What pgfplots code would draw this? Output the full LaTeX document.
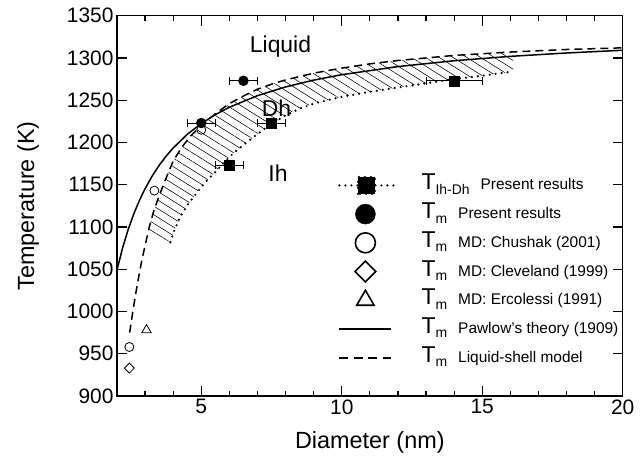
\documentclass[border=0pt]{standalone}
\usepackage{fontspec}
\setmainfont{Liberation Sans}
\usepackage{pgfplots}
\pgfplotsset{compat=1.18}
\usetikzlibrary{patterns.meta}

% legend text: T with subscript, then the description
\newcommand{\leg}[2]{T\raisebox{-4.5bp}{\fontsize{14}{14}\selectfont #1}\hspace{11bp}{\fontsize{15.5}{18}\selectfont #2}}

\begin{document}
\begin{tikzpicture}[font=\fontsize{21}{25}\selectfont]
\begin{axis}[
    width=505.7bp, height=380.3bp, scale only axis,
    xmin=2, xmax=20, ymin=900, ymax=1350,
    xtick={5,10,15,20},
    minor xtick={3,4,6,7,8,9,11,12,13,14,16,17,18,19},
    ytick={900,950,...,1350},
    tick align=inside,
    major tick length=10bp, minor tick length=5.5bp,
    every tick/.style={line width=1.2bp, black},
    axis line style={line width=1.2bp},
    /pgf/number format/assume math mode=true,
    /pgf/number format/set thousands separator={},
    tick label style={font=\fontsize{21}{21}\selectfont},
    xlabel={Diameter (nm)}, ylabel={Temperature (K)},
    label style={font=\fontsize{23.5}{24}\selectfont},
    xlabel style={at={(axis description cs:0.5,-0.121)}, anchor=center},
    ylabel style={at={(axis description cs:-0.176,0.5)}, anchor=center},
    legend cell align=left,
    legend style={draw=none, fill=none, at={(axis description cs:0.437,0.592)},
        anchor=north west, inner sep=0pt, row sep=0pt,
        font=\fontsize{23}{23}\selectfont,
        nodes={inner xsep=0pt, inner ysep=1.85bp, text height=17bp, text depth=8bp},
        /tikz/every odd column/.append style={column sep=27bp}},
    legend image code/.code={
        \draw[mark repeat=2,mark phase=2,#1] plot coordinates {(0bp,0bp)(26bp,0bp)(52bp,0bp)};},
]

% hatched band between liquid-shell curve and Ih-Dh line
\addplot[draw=none, pattern={Lines[angle=-32,distance=7.3bp,line width=0.55bp]}, forget plot]
coordinates {
(3.12,1096)(3.3,1118)(3.5,1137)(3.75,1158)(4.0,1178)(4.3,1194)(4.6,1207)(5.0,1220)
(5.5,1234)(6.0,1246)(6.5,1255)(7.0,1263)(7.5,1269)(8.0,1274)(9.0,1282)(10,1288)
(11,1293)(12,1297)(13,1300)(14,1303)(15,1305)(16.1,1307)
(16.1,1284)(15,1279)(14,1275)(13,1270)(12,1265)(11,1260)(10,1254)(9.0,1246)(8.5,1240)
(8.0,1232)(7.5,1222)(7.0,1210)(6.5,1197)(6.1,1186)(5.8,1176)(5.5,1165)(5.2,1155)
(4.85,1141)(4.55,1128)(4.25,1112)(4.05,1097)(3.9,1082)
};

% Ih-Dh boundary (dotted)
\addplot[black, line width=2.4bp, line cap=round, dash pattern=on 0bp off 6bp,
    legend image code/.code={
        \draw[black, line width=2.4bp, line cap=round, dash pattern=on 0bp off 6bp] (0bp,0bp) -- (54bp,0bp);
        \fill[black] (18.5bp,-8.5bp) rectangle (35.5bp,8.5bp);}]
coordinates {
(3.9,1082)(4.05,1097)(4.25,1112)(4.55,1128)(4.85,1141)(5.2,1155)(5.5,1165)(5.8,1176)
(6.1,1186)(6.5,1197)(7.0,1210)(7.5,1222)(8.0,1232)(8.5,1240)(9.0,1246)(10,1254)
(11,1260)(12,1265)(13,1270)(14,1275)(15,1279)(16.1,1284)
};
\addlegendentry{\leg{Ih-Dh}{Present results}}

\addplot[only marks, mark=square*, mark size=5bp, black, forget plot,
    error bars/.cd, x dir=both, x explicit,
    error bar style={line width=1bp, black, solid},
    error mark options={rotate=90, mark size=4bp, line width=1bp, solid}]
coordinates {(6,1173) +- (0.5,0) (7.5,1223) +- (0.5,0) (14,1273) +- (1.0,0)};

% melting points, present results
\addplot[only marks, mark=*, mark size=5bp, black,
    legend image post style={mark size=10bp},
    error bars/.cd, x dir=both, x explicit,
    error bar style={line width=1bp, black},
    error mark options={rotate=90, mark size=4bp, line width=1bp}]
coordinates {(5,1223) +- (0.5,0) (6.5,1273) +- (0.5,0)};
\addlegendentry{\leg{m}{Present results}}

\addplot[only marks, mark=o, mark size=4.5bp, black, line width=0.8bp,
    legend image post style={mark size=10bp, line width=1.6bp}]
coordinates {(2.44,958)(3.33,1143)(5.0,1215)};
\addlegendentry{\leg{m}{MD: Chushak (2001)}}

\addplot[only marks, mark=square, mark options={rotate=45}, mark size=3.5bp, black, line width=0.8bp,
    legend image post style={mark size=7.3bp, line width=1.6bp}]
coordinates {(2.44,933)};
\addlegendentry{\leg{m}{MD: Cleveland (1999)}}

\addplot[only marks, mark=triangle, mark size=5.5bp, black, line width=0.8bp,
    legend image post style={mark size=10bp, line width=1.6bp}]
coordinates {(3.05,978)};
\addlegendentry{\leg{m}{MD: Ercolessi (1991)}}

% Pawlow's theory
\addplot[black, line width=1.5bp, legend image post style={line width=1.9bp}] coordinates {
(2.0,1049)(2.2,1075.3)(2.4,1097.2)(2.6,1115.7)(2.8,1131.6)(3.0,1145.3)(3.25,1160.2)
(3.5,1172.9)(3.75,1183.9)(4.0,1193.5)(4.5,1209.6)(5.0,1222.4)(5.5,1232.9)(6.0,1241.7)
(7.0,1255.4)(8.0,1265.7)(9.0,1273.8)(10,1280.2)(12,1289.8)(14,1296.7)(16,1301.9)
(18,1305.9)(20,1309.1)
};
\addlegendentry{\leg{m}{Pawlow's theory (1909)}}

% liquid-shell model
\addplot[black, line width=1.5bp, dash pattern=on 8bp off 5bp,
    legend image post style={line width=2bp, dash pattern=on 9bp off 5.5bp}] coordinates {
(2.45,975)(2.55,997)(2.65,1018)(2.75,1037)(2.88,1060)(3.0,1078)(3.15,1100)(3.3,1118)
(3.5,1137)(3.75,1158)(4.0,1178)(4.3,1194)(4.6,1207)(5.0,1220)(5.5,1234)(6.0,1246)
(6.5,1255)(7.0,1263)(7.5,1269)(8.0,1274)(9.0,1282)(10,1288)(11,1293)(12,1297)
(13,1300)(14,1303)(15,1305)(16,1307)(18,1310)(20,1312)
};
\addlegendentry{\leg{m}{Liquid-shell model}}

\node[font=\fontsize{23}{23}\selectfont] at (axis cs:7.82,1313) {Liquid};
\node[font=\fontsize{23}{23}\selectfont] at (axis cs:7.68,1241) {Dh};
\node[font=\fontsize{23}{23}\selectfont] at (axis cs:7.73,1164) {Ih};
\end{axis}
\pgfresetboundingbox
\path[use as bounding box] (current axis.south west) ++(-117bp,-67bp) rectangle ++(641bp,463bp);
\end{tikzpicture}
\end{document}
